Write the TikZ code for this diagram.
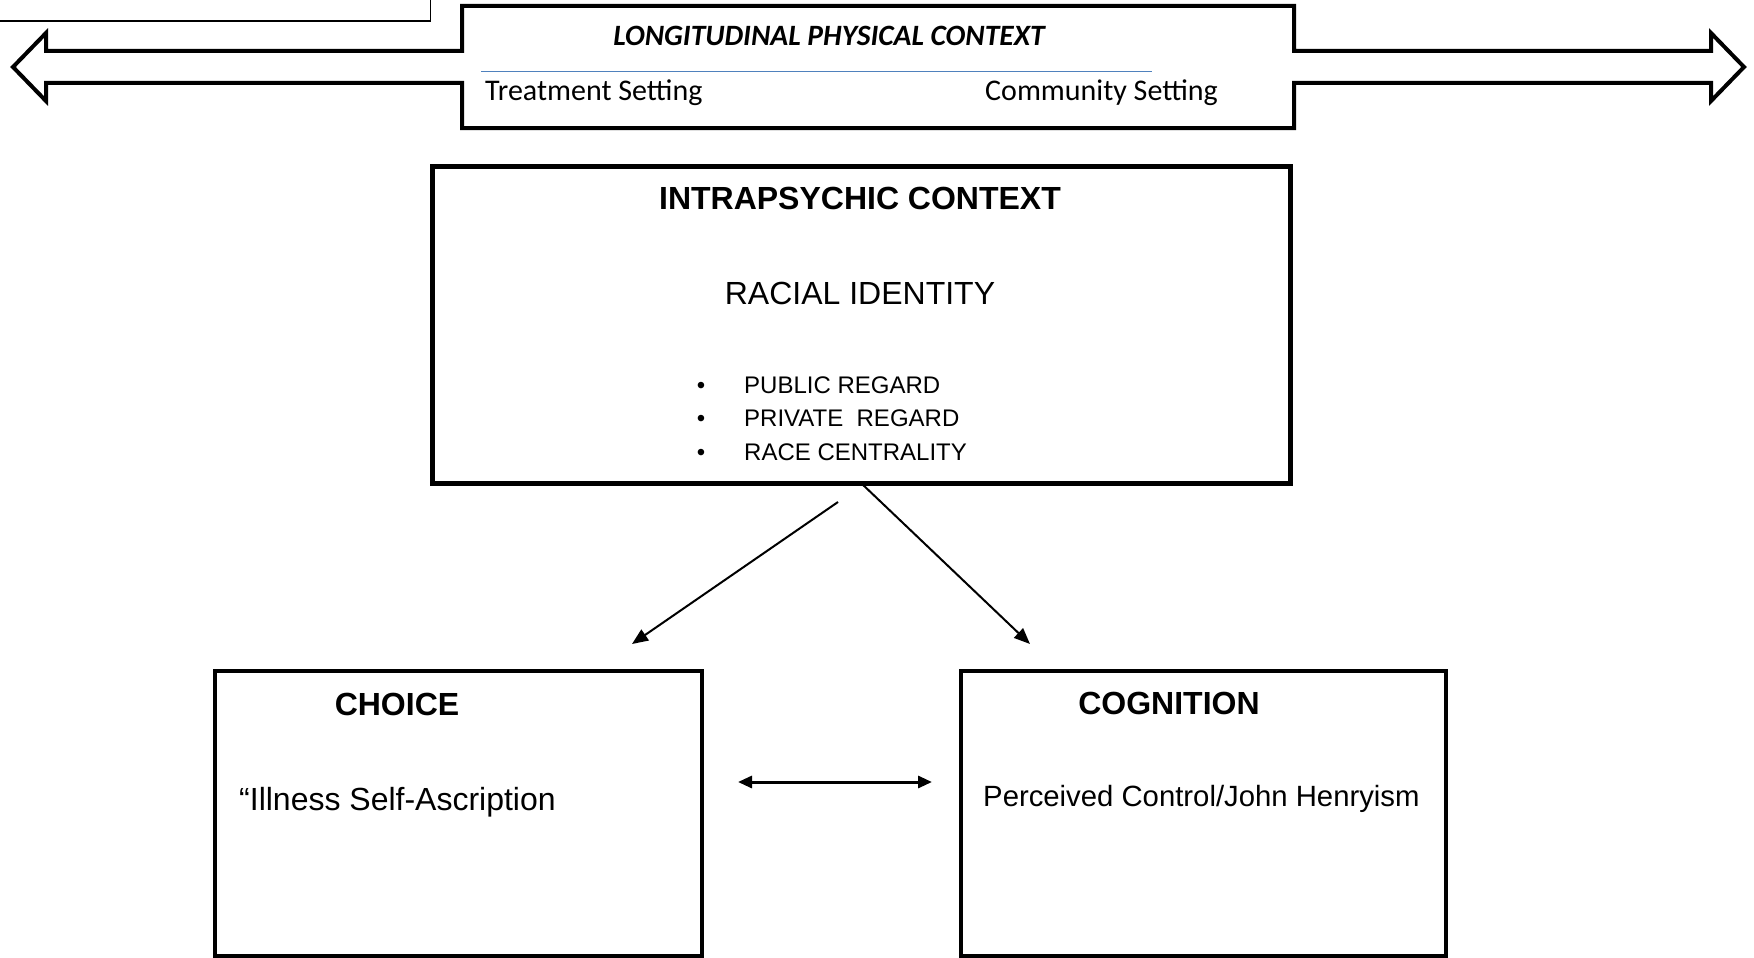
\documentclass[tikz,border=0pt]{standalone}
\usepackage{fontspec}
\setmainfont{Liberation Sans}
\newfontfamily\calibrifont{Carlito}
\usetikzlibrary{arrows.meta, positioning}

\definecolor{ruleblue}{RGB}{79,129,189}

\tikzstyle{banner} = [line width=4pt, line join=miter]
\tikzstyle{block} = [rectangle, draw, line width=4pt, anchor=north west, inner sep=0pt, outer sep=0pt]
\tikzstyle{heading} = [font=\bfseries\fontsize{32}{38}\selectfont, inner sep=0pt, anchor=base]
\tikzstyle{entry} = [font=\fontsize{32}{38}\selectfont, inner sep=0pt, anchor=base west]
\tikzstyle{bulletitem} = [font=\fontsize{24}{29}\selectfont, inner sep=0pt, anchor=base west]
\tikzstyle{setting} = [font=\calibrifont\fontsize{30}{36}\selectfont, inner sep=0pt, anchor=base west]
\tikzstyle{arrow} = [line width=2pt, -{Triangle[length=16pt, width=13pt]}]
\tikzstyle{both} = [line width=3pt, {Triangle[length=14pt, width=12pt]}-{Triangle[length=14pt, width=12pt]}]

\begin{document}
\begin{tikzpicture}[x=1pt, y=-1pt]
    \useasboundingbox (0,0) rectangle (1754,958);

    % Physical context banner
    \node (corner) [rectangle, draw, line width=1.5pt, minimum width=460pt, minimum height=40pt, anchor=south east, inner sep=0pt] at (431,22) {};
    \draw [banner] (13,67) -- (46,33) -- (46,51) -- (462,51) -- (462,6) -- (1294,6) -- (1294,51)
        -- (1711,51) -- (1711,33) -- (1744,67) -- (1711,101) -- (1711,83) -- (1294,83) -- (1294,128)
        -- (462,128) -- (462,83) -- (46,83) -- (46,101) -- cycle;
    \node (longit) [setting, anchor=base, font=\calibrifont\bfseries\itshape\fontsize{29.5}{35}\selectfont] at (829,46) {LONGITUDINAL PHYSICAL CONTEXT};
    \draw [ruleblue, line width=1pt] (481,72) -- (1152,72);
    \node (treat) [setting] at (485,100) {Treatment Setting};
    \node (commun) [setting] at (985,100) {Community Setting};

    % Intrapsychic context
    \node (intra) [block, line width=5pt, minimum width=858pt, minimum height=317pt] at (432,166) {};
    \node (intratitle) [heading] at (860,209.5) {INTRAPSYCHIC CONTEXT};
    \node (racial) [entry, anchor=base] at (860,304.5) {RACIAL IDENTITY};
    \node (dot1) [bulletitem, anchor=base] at (701,393.5) {\textbullet};
    \node (dot2) [bulletitem, anchor=base] at (701,426.5) {\textbullet};
    \node (dot3) [bulletitem, anchor=base] at (701,460.5) {\textbullet};
    \node (public) [bulletitem] at (744,393.5) {PUBLIC REGARD};
    \node (private) [bulletitem] at (744,426.5) {PRIVATE\ \ REGARD};
    \node (central) [bulletitem] at (744,460.5) {RACE CENTRALITY};

    % Choice and cognition
    \node (choice) [block, minimum width=487pt, minimum height=285pt] at (215,671) {};
    \node (choicetitle) [heading] at (397,715.5) {CHOICE};
    \node (illness) [entry] at (239,810.5) {``Illness Self-Ascription};
    \node (cog) [block, line width=3.5pt, minimum width=485pt, minimum height=285pt] at (961,671) {};
    \node (cogtitle) [heading] at (1169,714) {COGNITION};
    \node (control) [entry, font=\fontsize{29.3}{35}\selectfont] at (983,806.5) {Perceived Control/John Henryism};

    % ==== Arrows
    \coordinate (leftstart) at (838,502);
    \coordinate (choicetip) at (632,644);
    \coordinate (cogtip) at (1030,644);
    \coordinate (linkL) at (738,782);
    \coordinate (linkR) at (932,782);
    \draw [arrow] (leftstart) -- (choicetip);
    \draw [arrow] (intra.south) -- (cogtip);
    \draw [both] (linkL) -- (linkR);

\end{tikzpicture}
\end{document}
